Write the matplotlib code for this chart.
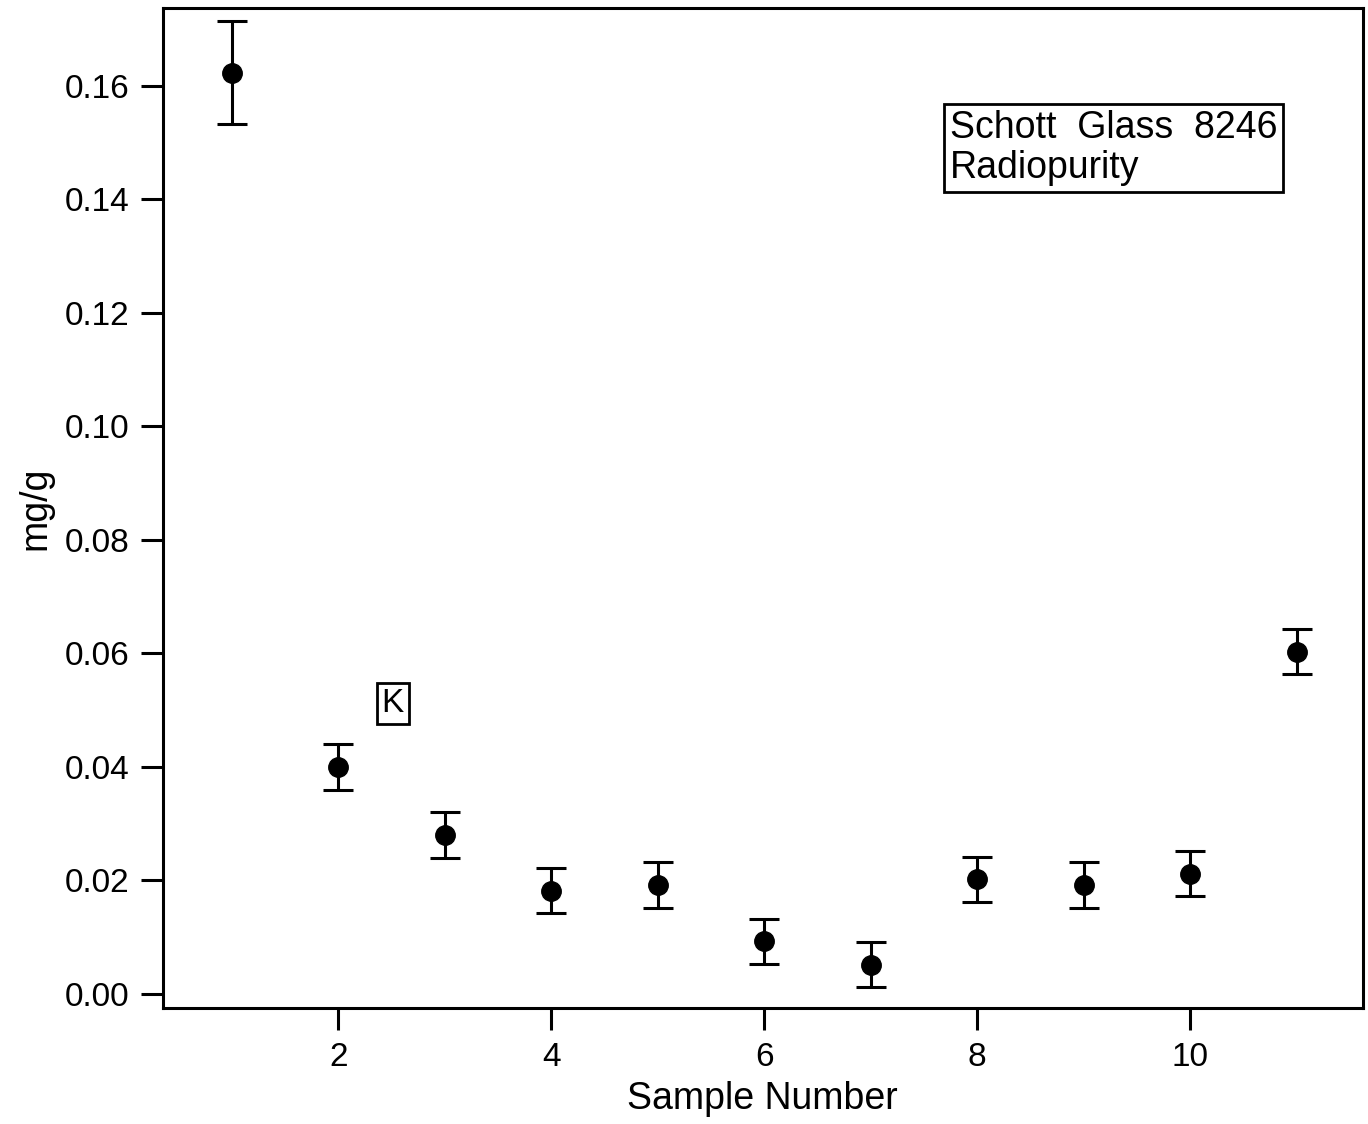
import numpy as np
import matplotlib.pyplot as plt

plt.rcParams['font.family'] = ['Liberation Sans', 'DejaVu Sans']

sample = [1, 2, 3, 4, 5, 6, 7, 8, 9, 10, 11]
conc = [0.1623, 0.0400, 0.0280, 0.0182, 0.0192, 0.0093, 0.0052, 0.0202, 0.0192, 0.0212, 0.0603]
err = [0.0090, 0.0040, 0.0040, 0.0040, 0.0040, 0.0040, 0.0040, 0.0040, 0.0040, 0.0040, 0.0040]

fig = plt.figure(figsize=(13.68, 11.24), dpi=100)
ax = fig.add_axes([0.119, 0.103, 0.877, 0.890])

ax.errorbar(sample, conc, yerr=err, fmt='o', color='black', markersize=14,
            elinewidth=2.2, capsize=11, capthick=2.2)

ax.set_xlim(0.35, 11.62)
ax.set_ylim(-0.0025, 0.1737)
ax.set_xticks([2, 4, 6, 8, 10])
ax.set_yticks(np.arange(0, 0.161, 0.02))
ax.yaxis.set_major_formatter(plt.FormatStrFormatter('%.2f'))
ax.tick_params(direction='out', length=16, width=2.2, labelsize=24, pad=8)

for s in ax.spines.values():
    s.set_linewidth(2.2)

ax.set_xlabel('Sample Number', fontsize=27, labelpad=6)
ax.set_ylabel('mg/g', fontsize=27, labelpad=8)

ax.text(0.656, 0.898, 'Schott  Glass  8246\nRadiopurity', transform=ax.transAxes,
        fontsize=27, va='top', ha='left', linespacing=1.15,
        bbox=dict(boxstyle='square,pad=0.15', facecolor='white', edgecolor='black', linewidth=2))
ax.text(2.51, 0.0511, 'K', fontsize=24, ha='center', va='center',
        bbox=dict(boxstyle='square,pad=0.15', facecolor='white', edgecolor='black', linewidth=2))

fig.savefig('out.png', dpi=100)
